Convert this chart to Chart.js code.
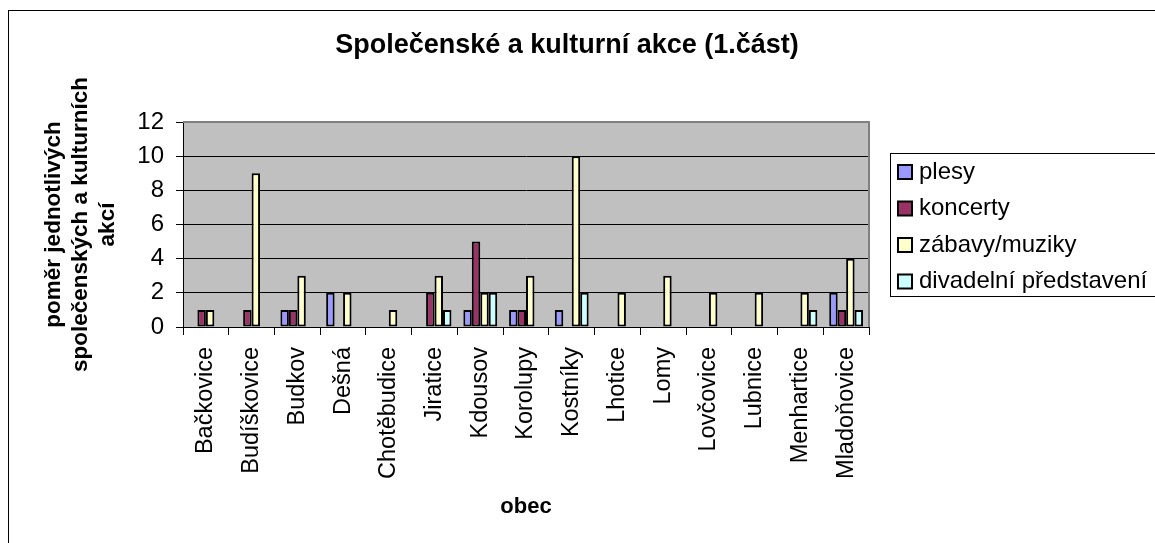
<!DOCTYPE html>
<html>
<head>
<meta charset="utf-8">
<title>Společenské a kulturní akce (1.část)</title>
<script src="https://cdn.jsdelivr.net/npm/chart.js@4.4.0/dist/chart.umd.min.js"></script>
<style>
  html, body { margin: 0; padding: 0; background: #fff; }
  canvas { display: block; }
</style>
</head>
<body>
<canvas id="chart" width="1155" height="543"></canvas>
<script>
const obce = ["Bačkovice", "Budíškovice", "Budkov", "Dešná", "Chotěbudice", "Jiratice", "Kdousov",
  "Korolupy", "Kostníky", "Lhotice", "Lomy", "Lovčovice", "Lubnice", "Menhartice", "Mladoňovice"];
const plesy    = [0, 0, 1, 2, 0, 0, 1, 1, 1, 0, 0, 0, 0, 0, 2];
const koncerty = [1, 1, 1, 0, 0, 2, 5, 1, 0, 0, 0, 0, 0, 0, 1];
const zabavy   = [1, 9, 3, 2, 1, 3, 2, 3, 10, 2, 3, 2, 2, 2, 4];
const divadlo  = [0, 0, 0, 0, 0, 1, 2, 0, 2, 0, 0, 0, 0, 1, 1];
const yTicks = [0, 2, 4, 6, 8, 10, 12];
const nadpis = "Společenské a kulturní akce (1.část)";

const FONT = "'Liberation Sans', Arial, sans-serif";

function dataset(label, data, color) {
  return {
    label: label,
    data: data,
    backgroundColor: color,
    borderColor: "#000",
    borderWidth: ctx => (ctx.raw ? 2 : 0),
    borderSkipped: false,
    barPercentage: 1,
    categoryPercentage: 0.74
  };
}

// grey plot area, outer frame, top/right plot border, title and boxed legend
const framePlugin = {
  id: "frame",
  beforeDraw(chart) {
    const c = chart.ctx;
    const a = chart.chartArea;
    c.save();
    c.fillStyle = "#fff";
    c.fillRect(0, 0, chart.width, chart.height);
    c.strokeStyle = "#000";
    c.lineWidth = 1;
    c.strokeRect(8.5, 10.5, chart.width + 20, chart.height + 20);
    c.fillStyle = "#c0c0c0";
    c.fillRect(a.left, a.top, a.right - a.left, a.bottom - a.top);
    c.restore();
  },
  beforeDatasetsDraw(chart) {
    const c = chart.ctx;
    const a = chart.chartArea;
    c.save();
    c.strokeStyle = "#808080";
    c.lineWidth = 2;
    c.beginPath();
    c.moveTo(a.left, a.top);
    c.lineTo(a.right, a.top);
    c.lineTo(a.right, a.bottom);
    c.stroke();
    c.restore();
  },
  afterDraw(chart) {
    const c = chart.ctx;
    c.save();
    c.fillStyle = "#000";
    c.font = "bold 27px " + FONT;
    c.textAlign = "center";
    c.textBaseline = "middle";
    c.fillText(nadpis, 567, 46);

    c.strokeStyle = "#000";
    c.lineWidth = 1;
    c.strokeRect(890.5, 153.5, 300, 143);
    c.font = "24px " + FONT;
    c.textAlign = "left";
    chart.data.datasets.forEach((ds, i) => {
      const y = 172 + i * 36.5;
      c.fillStyle = ds.backgroundColor;
      c.fillRect(898, y - 7, 14, 14);
      c.lineWidth = 2;
      c.strokeRect(898, y - 7, 14, 14);
      c.fillStyle = "#000";
      c.fillText(ds.label, 919, y);
    });
    c.restore();
  }
};

new Chart(document.getElementById("chart"), {
  type: "bar",
  data: {
    labels: obce,
    datasets: [
      dataset("plesy", plesy, "#9999ff"),
      dataset("koncerty", koncerty, "#993366"),
      dataset("zábavy/muziky", zabavy, "#ffffcc"),
      dataset("divadelní představení", divadlo, "#ccffff")
    ]
  },
  options: {
    responsive: false,
    animation: false,
    devicePixelRatio: 1,
    layout: { padding: { left: 0, right: 286, top: 122, bottom: 0 } },
    plugins: {
      legend: { display: false },
      tooltip: { enabled: false },
      title: { display: false }
    },
    scales: {
      x: {
        offset: true,
        grid: { display: true, drawOnChartArea: false, drawTicks: true, tickLength: 8, color: "#000", offset: true },
        border: { color: "#000", width: 1 },
        ticks: {
          color: "#000",
          font: { family: FONT, size: 23.5 },
          minRotation: 90,
          maxRotation: 90,
          autoSkip: false,
          padding: 12
        },
        title: {
          display: true,
          text: "obec",
          color: "#000",
          font: { family: FONT, size: 22, weight: "bold", lineHeight: 1.2 },
          padding: { top: 0, bottom: 23 }
        },
        afterFit(scale) {
          scale.height = 216;
          scale.paddingLeft = 0;
          scale.paddingRight = 0;
        }
      },
      y: {
        min: yTicks[0],
        max: yTicks[yTicks.length - 1],
        grid: {
          color: ctx => (ctx.tick && ctx.tick.value === yTicks[yTicks.length - 1] ? "#808080" : "#000"),
          tickColor: "#000",
          tickLength: 7,
          lineWidth: 1
        },
        border: { color: "#000", width: 1 },
        ticks: {
          stepSize: yTicks[1] - yTicks[0],
          color: "#000",
          font: { family: FONT, size: 24 },
          padding: 12
        },
        title: {
          display: true,
          text: ["poměr jednotlivých", "společenských a kulturních", "akcí"],
          color: "#000",
          font: { family: FONT, size: 22.5, weight: "bold", lineHeight: 1.2 },
          padding: { top: 40, bottom: 0 }
        },
        afterFit(scale) {
          scale.width = 183;
          scale.paddingTop = 0;
          scale.paddingBottom = 0;
        }
      }
    }
  },
  plugins: [framePlugin]
});
</script>
</body>
</html>
